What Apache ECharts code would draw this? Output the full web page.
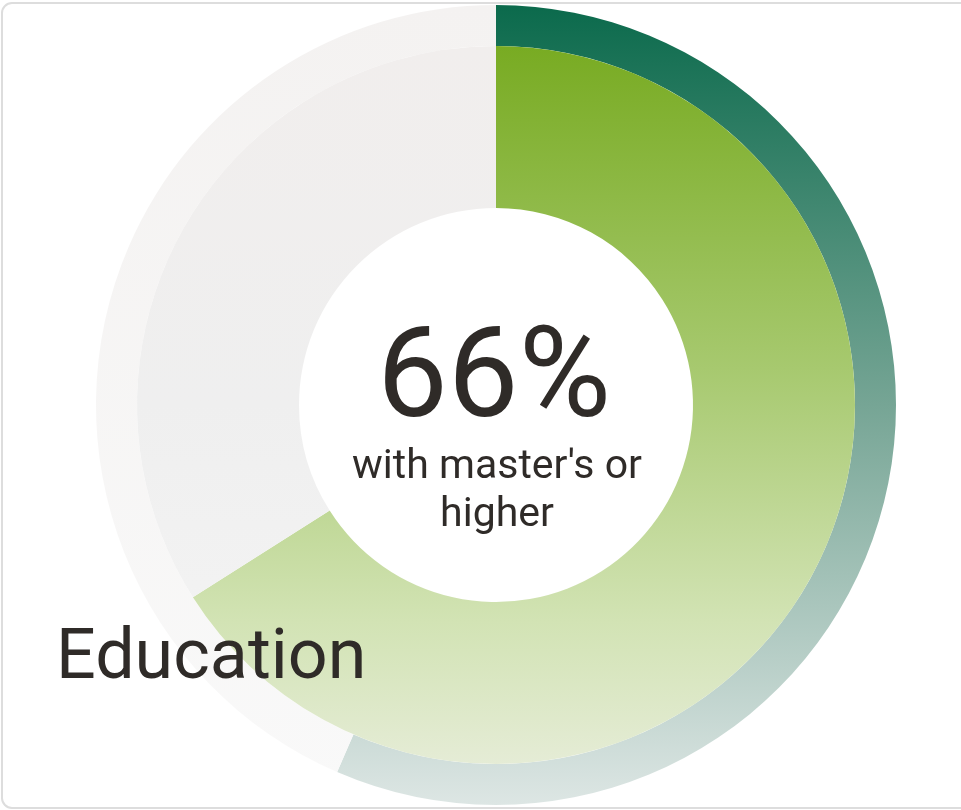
<!DOCTYPE html>
<html>
<head>
<meta charset="utf-8">
<script src="https://cdn.jsdelivr.net/npm/echarts@6/dist/echarts.min.js"></script>
<style>
html,body{margin:0;padding:0;background:#fff;}
#chart{width:961px;height:810px;}
</style>
</head>
<body>
<div id="chart"></div>
<script>
// Data
var innerLabels = ["Master's or higher", "Other"];
var innerValues = [66, 34];
var outerLabels = ["Outer share", "Rest"];
var outerValues = [56.5, 43.5];
var bigText = "66%";
var subText = ["with master's or", "higher"];
var titleText = "Education";

var chart = echarts.init(document.getElementById('chart'));

function grad(y1, y2, stops) {
  return { type: 'linear', x: 0, y: y1, x2: 0, y2: y2, global: true,
    colorStops: stops.map(function (s) { return { offset: s[0], color: s[1] }; }) };
}

var innerGreen = grad(45, 765, [[0, '#78ab22'], [0.45, '#a7c96f'], [0.8, '#d2e3b4'], [1, '#e5ecd6']]);
var innerGray = grad(45, 765, [[0, '#f1eeed'], [0.5, '#efefef'], [1, '#f5f5f5']]);
var outerGreen = grad(5, 805, [[0, '#0b6a4c'], [0.5, '#76a595'], [1, '#dde6e4']]);
var outerGray = grad(5, 805, [[0, '#f4f2f1'], [1, '#f9f9f9']]);

var center = [496, 405];

chart.setOption({
  animation: false,
  series: [
    {
      type: 'pie', silent: true, center: center, radius: [359, 400],
      startAngle: 90, clockwise: true, label: { show: false }, labelLine: { show: false },
      emphasis: { disabled: true },
      itemStyle: { borderWidth: 0 },
      data: [
        { name: outerLabels[0], value: outerValues[0], itemStyle: { color: outerGreen } },
        { name: outerLabels[1], value: outerValues[1], itemStyle: { color: outerGray } }
      ]
    },
    {
      type: 'pie', silent: true, center: center, radius: [197, 359],
      startAngle: 90, clockwise: true, label: { show: false }, labelLine: { show: false },
      emphasis: { disabled: true },
      itemStyle: { borderWidth: 0 },
      data: [
        { name: innerLabels[0], value: innerValues[0], itemStyle: { color: innerGreen } },
        { name: innerLabels[1], value: innerValues[1], itemStyle: { color: innerGray } }
      ]
    }
  ],
  graphic: [
    { type: 'rect', shape: { x: 2, y: 3, width: 1000, height: 805, r: 10 }, silent: true,
      style: { fill: 'none', stroke: '#dddddd', lineWidth: 2 }, z: 100 },
    { type: 'text', x: 494, y: 384, style: { text: bigText, font: '400 126px Roboto', fill: '#2f2b28', align: 'center', verticalAlign: 'middle' }, z: 50 },
    { type: 'text', x: 497, y: 468, style: { text: subText[0], font: '41px Roboto', fill: '#2f2b28', align: 'center', verticalAlign: 'middle' }, z: 50 },
    { type: 'text', x: 497, y: 516, style: { text: subText[1], font: '41px Roboto', fill: '#2f2b28', align: 'center', verticalAlign: 'middle' }, z: 50 },
    { type: 'text', x: 56, y: 660, style: { text: titleText, font: '70px Roboto', fill: '#2f2b28', align: 'left', verticalAlign: 'middle' }, z: 50 }
  ]
});
</script>
</body>
</html>
